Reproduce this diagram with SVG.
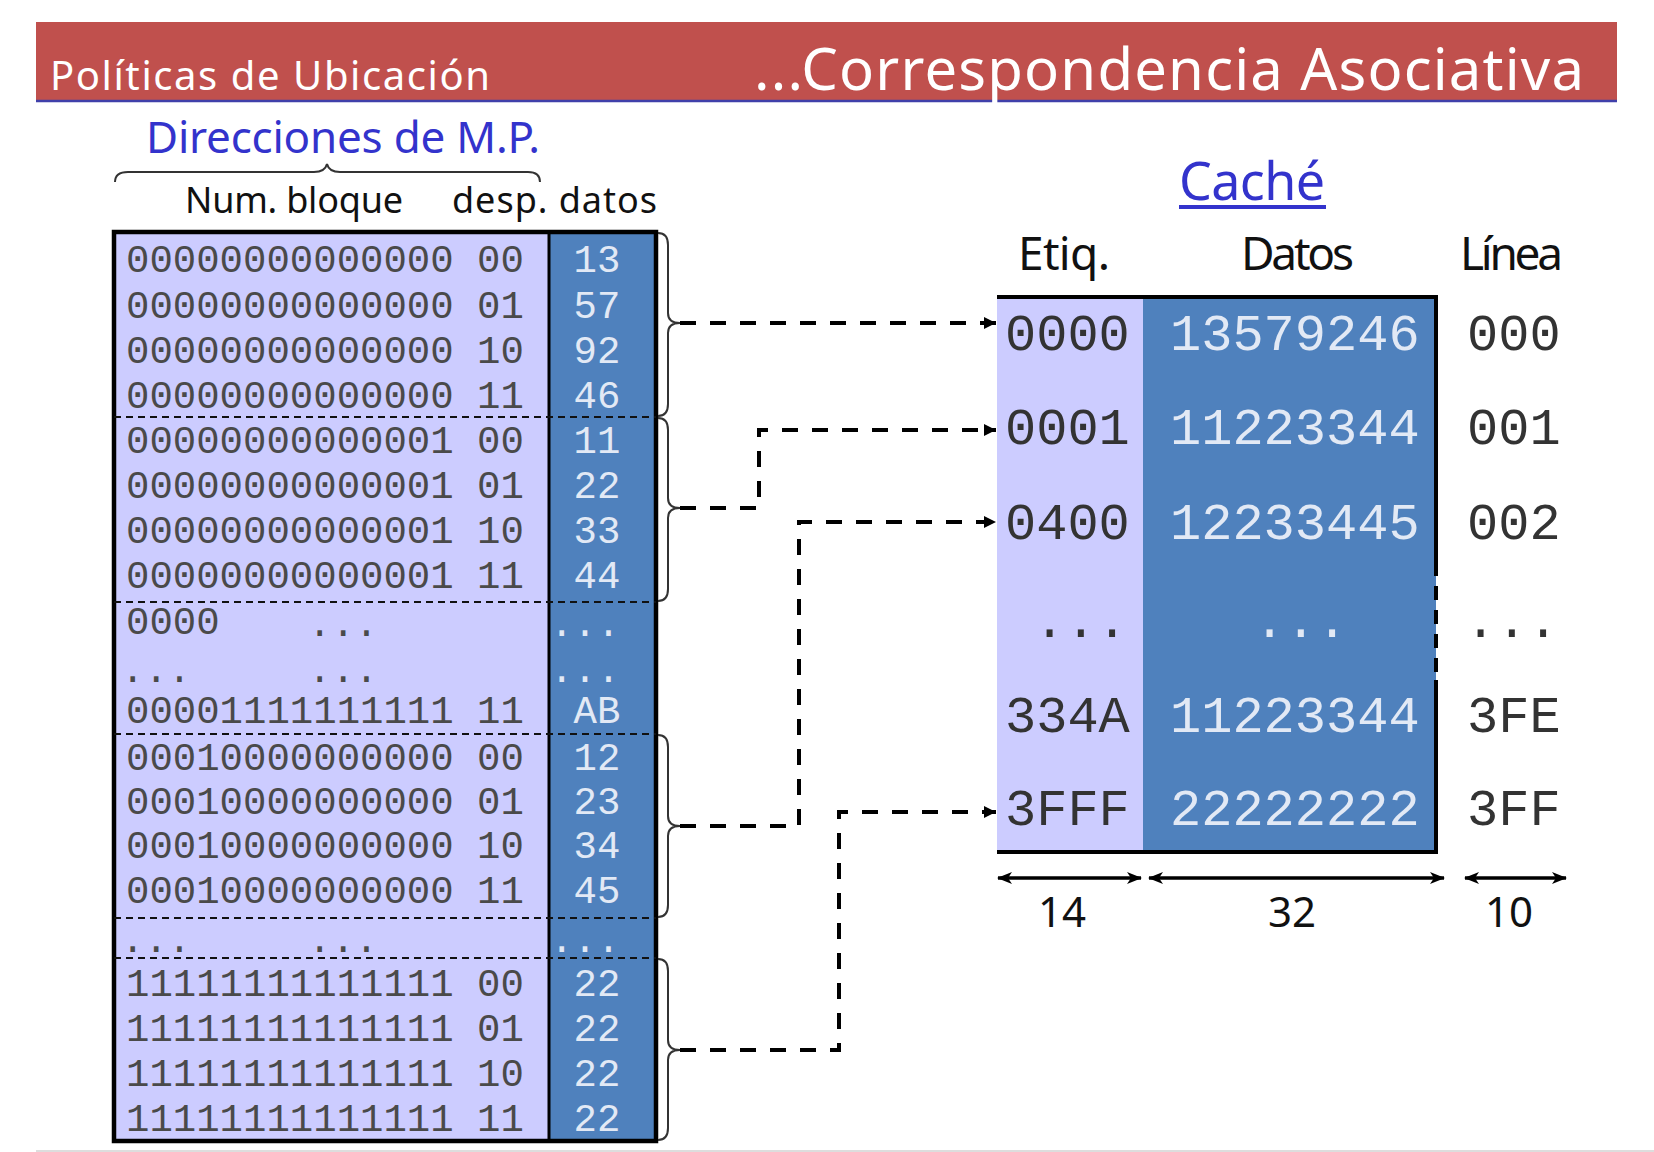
<svg xmlns="http://www.w3.org/2000/svg" width="1654" height="1152" viewBox="0 0 1654 1152">
<style>
.title{font-family:"Noto Sans","DejaVu Sans",sans-serif;fill:#ffffff}
.hand{font-family:"Noto Sans","DejaVu Sans",sans-serif;fill:#111111}
.blue{fill:#3333cc}
.mono{font-family:"Liberation Mono","DejaVu Sans Mono",monospace;font-size:39px;fill:#4a4a4a}
.monow{font-family:"Liberation Mono","DejaVu Sans Mono",monospace;font-size:39px;fill:#e2e9f5;text-anchor:middle}
.cmono{font-family:"Liberation Mono","DejaVu Sans Mono",monospace;font-size:52px;fill:#333333}
.cmonow{font-family:"Liberation Mono","DejaVu Sans Mono",monospace;font-size:52px;fill:#e2e9f5}
.sep{stroke:#111;stroke-width:2;stroke-dasharray:7 5;fill:none}
.brace{stroke:#333;stroke-width:2;fill:none}
.conn{stroke:#000;stroke-width:4;stroke-dasharray:16 14;fill:none;marker-end:url(#ah)}
.dim{stroke:#000;stroke-width:3.5;fill:none;marker-start:url(#dh);marker-end:url(#dh)}
</style>
<defs>
<marker id="ah" markerUnits="userSpaceOnUse" viewBox="0 0 12 12" refX="12" refY="6" markerWidth="12" markerHeight="12" orient="auto">
<path d="M0,0 L12,6 L0,12 z" fill="#000"/>
</marker>
<marker id="dh" markerUnits="userSpaceOnUse" viewBox="0 0 15 12" refX="14" refY="6" markerWidth="15" markerHeight="12" orient="auto-start-reverse">
<path d="M0,0 L15,6 L0,12 L4,6 z" fill="#000"/>
</marker>
</defs>
<rect x="0" y="0" width="1654" height="1152" fill="#ffffff"/>

<g id="banner">
<rect x="36" y="22" width="1581" height="79" fill="#c0504d"/>
<line x1="36" y1="101" x2="1617" y2="101" stroke="#4040aa" stroke-width="2.5"/>
<text class="title" x="50" y="90" font-size="40" textLength="440">Políticas de Ubicación</text>
<text class="title" x="754" y="90" font-size="58" textLength="830">...Correspondencia Asociativa</text>
</g>

<g id="mp-header">
<text class="hand blue" x="146" y="153" font-size="44" textLength="394">Direcciones de M.P.</text>
<path class="brace" d="M115,182 Q115,172 128,172 L314,172 Q325,172 327,164 Q329,172 340,172 L528,172 Q540,172 540,182" stroke="#222"/>
<text class="hand" x="185" y="213" font-size="36" textLength="218">Num. bloque</text>
<text class="hand" x="452" y="213" font-size="36" textLength="205">desp. datos</text>
</g>

<g id="mp-table">
<rect x="114" y="232" width="542" height="909" fill="#ccccff"/>
<rect x="549" y="232" width="107" height="909" fill="#4f81bd"/>
<line x1="549" y1="232" x2="549" y2="1141" stroke="#000" stroke-width="3"/>
<rect x="114" y="232" width="542" height="909" fill="none" stroke="#000" stroke-width="4.5"/>
<line class="sep" x1="114" y1="417" x2="656" y2="417"/>
<line class="sep" x1="114" y1="602" x2="656" y2="602"/>
<line class="sep" x1="114" y1="734" x2="656" y2="734"/>
<line class="sep" x1="114" y1="918" x2="656" y2="918"/>
<line class="sep" x1="114" y1="958" x2="656" y2="958"/>
<g class="mono">
<text x="126" y="272">00000000000000 00</text>
<text x="126" y="318">00000000000000 01</text>
<text x="126" y="363">00000000000000 10</text>
<text x="126" y="408">00000000000000 11</text>
<text x="126" y="453">00000000000001 00</text>
<text x="126" y="498">00000000000001 01</text>
<text x="126" y="543">00000000000001 10</text>
<text x="126" y="588">00000000000001 11</text>
<text x="126" y="634">0000</text>
<text x="308" y="636">...</text>
<text x="121" y="682">...</text>
<text x="308" y="682">...</text>
<text x="126" y="723">00001111111111 11</text>
<text x="126" y="770">00010000000000 00</text>
<text x="126" y="814">00010000000000 01</text>
<text x="126" y="858">00010000000000 10</text>
<text x="126" y="903">00010000000000 11</text>
<text x="121" y="952">...</text>
<text x="308" y="952">...</text>
<text x="126" y="996">11111111111111 00</text>
<text x="126" y="1041">11111111111111 01</text>
<text x="126" y="1086">11111111111111 10</text>
<text x="126" y="1131">11111111111111 11</text>
</g>
<g class="monow">
<text x="597" y="272">13</text>
<text x="597" y="318">57</text>
<text x="597" y="363">92</text>
<text x="597" y="408">46</text>
<text x="597" y="453">11</text>
<text x="597" y="498">22</text>
<text x="597" y="543">33</text>
<text x="597" y="588">44</text>
<text x="585" y="636">...</text>
<text x="585" y="682">...</text>
<text x="597" y="723">AB</text>
<text x="597" y="770">12</text>
<text x="597" y="814">23</text>
<text x="597" y="858">34</text>
<text x="597" y="903">45</text>
<text x="585" y="952">...</text>
<text x="597" y="996">22</text>
<text x="597" y="1041">22</text>
<text x="597" y="1086">22</text>
<text x="597" y="1131">22</text>
</g>
</g>

<g id="mp-braces">
<path class="brace" d="M658,233 Q668,233 668,245 L668,313 Q668,323 680,323 Q668,323 668,333 L668,404 Q668,416 658,416"/>
<path class="brace" d="M658,418 Q668,418 668,430 L668,498 Q668,508 680,508 Q668,508 668,518 L668,589 Q668,601 658,601"/>
<path class="brace" d="M658,735 Q668,735 668,747 L668,816 Q668,826 680,826 Q668,826 668,836 L668,905 Q668,917 658,917"/>
<path class="brace" d="M658,959 Q668,959 668,971 L668,1040 Q668,1050 680,1050 Q668,1050 668,1060 L668,1128 Q668,1140 658,1140"/>
</g>

<g id="cache-header">
<text class="hand blue" x="1179" y="200" font-size="52" textLength="146">Caché</text>
<rect x="1179" y="205" width="147" height="4" fill="#3333cc"/>
<text class="hand" x="1018" y="270" font-size="46" textLength="92">Etiq.</text>
<text class="hand" x="1241" y="270" font-size="46" textLength="113">Datos</text>
<text class="hand" x="1460" y="270" font-size="46" textLength="103">Línea</text>
</g>

<g id="cache-table">
<rect x="997" y="297" width="146" height="555" fill="#ccccff"/>
<rect x="1143" y="297" width="293" height="555" fill="#4f81bd"/>
<path d="M997,297 H1436 V562" stroke="#000" stroke-width="4" fill="none"/>
<path d="M1436,562 V680" stroke="#000" stroke-width="4" stroke-dasharray="14 10" fill="none"/>
<path d="M1436,680 V852 H997" stroke="#000" stroke-width="4" fill="none"/>
<g class="cmono">
<text x="1005" y="350">0000</text>
<text x="1005" y="444">0001</text>
<text x="1005" y="539">0400</text>
<text x="1034" y="637">...</text>
<text x="1005" y="732">334A</text>
<text x="1005" y="825">3FFF</text>
</g>
<g class="cmonow">
<text x="1170" y="350">13579246</text>
<text x="1170" y="444">11223344</text>
<text x="1170" y="539">12233445</text>
<text x="1254" y="637">...</text>
<text x="1170" y="732">11223344</text>
<text x="1170" y="825">22222222</text>
</g>
<g class="cmono">
<text x="1467" y="350">000</text>
<text x="1467" y="444">001</text>
<text x="1467" y="539">002</text>
<text x="1465" y="637">...</text>
<text x="1467" y="732">3FE</text>
<text x="1467" y="825">3FF</text>
</g>
</g>

<g id="cache-sizes">
<line class="dim" x1="998" y1="878" x2="1141" y2="878"/>
<line class="dim" x1="1149" y1="878" x2="1444" y2="878"/>
<line class="dim" x1="1465" y1="878" x2="1566" y2="878"/>
<text class="hand" x="1062" y="927" font-size="42" text-anchor="middle">14</text>
<text class="hand" x="1292" y="927" font-size="42" text-anchor="middle">32</text>
<text class="hand" x="1509" y="927" font-size="42" text-anchor="middle">10</text>
</g>

<g id="connectors">
<path class="conn" d="M680,323 H996"/>
<path class="conn" d="M680,508 H759 V430 H996"/>
<path class="conn" d="M680,826 H799 V522 H996"/>
<path class="conn" d="M680,1050 H839 V812 H996"/>
</g>

<line x1="36" y1="1151" x2="1654" y2="1151" stroke="#dddddd" stroke-width="2"/>
</svg>
